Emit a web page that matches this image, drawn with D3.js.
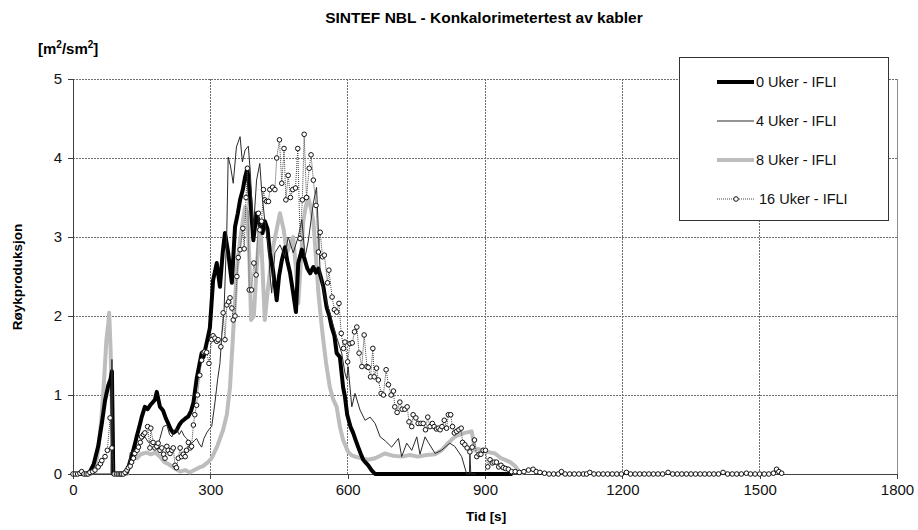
<!DOCTYPE html>
<html>
<head>
<meta charset="utf-8">
<script src="https://cdn.jsdelivr.net/npm/d3@7"></script>
<style>
  body { margin: 0; background: #fff; }
  svg { font-family: Arial, "Liberation Sans", sans-serif; }
</style>
</head>
<body>
<svg id="chart" width="918" height="530"></svg>
<script>
"use strict";

const title = "SINTEF NBL - Konkalorimetertest av kabler";
const xTicks = [0, 300, 600, 900, 1200, 1500, 1800];
const yTicks = [0, 1, 2, 3, 4, 5];
const seriesNames = ["0 Uker - IFLI", "4 Uker - IFLI", "8 Uker - IFLI", "16 Uker - IFLI"];

// [tid (s), røykproduksjon]
const uker0 = [[0,0],[30,0],[37,0.03],[45,0.12],[55,0.35],[63,0.64],[70,0.93],[77,1.12],[82,1.2],[85,1.3],[88,0],
  [95,0],[110,0],[117,0.02],[122,0.1],[128,0.22],[134,0.35],[139,0.47],[145,0.6],[150,0.72],[157,0.85],[163,0.82],
  [170,0.88],[179,0.94],[183,1.04],[190,0.85],[197,0.8],[203,0.7],[208,0.64],[214,0.56],[219,0.52],[226,0.55],
  [232,0.62],[237,0.66],[245,0.7],[252,0.73],[258,0.8],[263,0.9],[270,1.2],[274,1.32],[281,1.53],[285,1.48],
  [292,1.66],[299,1.85],[306,2.45],[314,2.67],[321,2.37],[327,2.8],[332,3.05],[339,2.8],[347,2.42],[354,3.13],
  [360,3.3],[365,3.47],[371,3.6],[376,3.76],[381,3.87],[387,3.5],[394,2.96],[401,3.3],[408,3.15],[414,3.05],
  [419,3.2],[425,3.1],[430,2.8],[437,2.58],[445,2.2],[450,2.5],[456,2.7],[463,2.87],[468,2.7],[474,2.55],
  [481,2.29],[487,2.05],[492,2.67],[500,2.84],[507,2.7],[512,2.6],[518,2.54],[525,2.62],[531,2.55],[536,2.6],
  [541,2.5],[547,2.37],[554,2.11],[560,2.0],[565,1.86],[571,1.75],[576,1.53],[583,1.48],[590,1.1],[594,0.98],
  [599,0.75],[606,0.6],[612,0.52],[618,0.42],[623,0.34],[629,0.25],[634,0.18],[640,0.14],[645,0.11],[652,0.05],
  [660,0],[700,0],[800,0],[900,0],[960,0]];

const uker4 = [[0,0],[80,0],[83,0],[85,1.45],[88,0],[120,0],[125,0.27],[135,0.3],[145,0.4],[157,0.47],[165,0.4],
  [175,0.42],[183,0.34],[190,0.45],[197,0.6],[205,0.62],[211,0.5],[216,0.47],[221,0.55],[226,0.57],[232,0.5],
  [237,0.55],[243,0.48],[248,0.45],[254,0.4],[259,0.39],[265,0.42],[270,0.45],[276,0.38],[281,0.34],[286,0.45],
  [292,0.52],[299,0.58],[303,0.6],[310,0.9],[316,1.2],[321,1.4],[325,1.75],[330,2.07],[336,3.09],[339,4.01],
  [344,3.9],[350,3.68],[357,4.14],[365,4.27],[370,3.95],[376,4.1],[383,4.15],[387,3.85],[394,3.09],[401,3.72],
  [408,3.93],[412,3.6],[419,3.2],[427,2.87],[430,2.54],[434,2.29],[441,2.8],[452,2.9],[463,2.75],[470,3.0],
  [481,2.8],[492,3.0],[500,3.22],[507,2.75],[514,2.95],[525,3.43],[532,3.63],[540,2.54],[548,2.3],[561,2.04],
  [576,1.73],[587,1.53],[594,1.28],[598,1.2],[601,1.36],[609,0.85],[616,1.02],[627,0.81],[638,0.68],[649,0.72],
  [660,0.64],[671,0.47],[682,0.42],[696,0.34],[711,0.45],[718,0.22],[729,0.39],[740,0.3],[751,0.47],[758,0.25],
  [769,0.47],[776,0.4],[791,0.26],[805,0.3],[823,0.39],[834,0.35],[849,0.22],[860,0],[866,0],[867,0.27],
  [869,0],[880,0]];

const uker8 = [[0,0],[40,0],[48,0.05],[55,0.3],[62,0.7],[68,1.2],[73,1.7],[77,1.9],[79,2.04],[82,1.6],[85,0.8],
  [88,0],[95,0],[118,0],[125,0.18],[132,0.22],[140,0.2],[148,0.25],[160,0.27],[170,0.25],[180,0.27],[190,0.22],
  [200,0.15],[210,0.12],[220,0.08],[234,0.03],[245,0.05],[255,0.02],[265,0.05],[275,0.08],[284,0.1],[295,0.15],
  [303,0.2],[315,0.35],[328,0.56],[336,0.75],[343,1.1],[350,1.8],[358,2.6],[365,2.96],[371,3.2],[376,3.38],
  [381,3.3],[386,2.6],[389,1.95],[395,2.0],[400,2.5],[405,2.92],[410,3.09],[414,2.6],[419,1.95],[425,2.3],
  [431,2.6],[437,2.87],[445,3.1],[452,3.3],[460,3.1],[467,2.8],[474,2.9],[481,3.0],[487,2.6],[492,2.16],
  [498,2.7],[503,3.2],[509,3.4],[514,3.5],[520,3.35],[525,3.2],[530,2.8],[536,2.3],[541,2.0],[546,1.73],
  [553,1.4],[561,1.1],[568,0.95],[576,0.85],[583,0.6],[590,0.43],[596,0.35],[601,0.28],[608,0.24],[616,0.22],
  [630,0.2],[644,0.18],[660,0.2],[681,0.26],[700,0.23],[718,0.22],[736,0.24],[754,0.22],[772,0.24],[791,0.25],
  [805,0.3],[819,0.39],[834,0.47],[845,0.5],[856,0.52],[871,0.54],[878,0.3],[885,0.32],[893,0.3],[905,0.28],
  [922,0.26],[935,0.2],[944,0.18],[955,0.15],[966,0.1],[975,0.03],[985,0]];

const uker16 = [[0,0],[5,0],[10,0],[15,0.01],[19,0.03],[24,0],[29,0],[33,0],[37,0.02],[43,0.03],[48,0.05],
  [55,0.09],[60,0.13],[63,0.17],[70,0.22],[75,0.3],[81,0.71],[85,0.33],[90,0],[95,0],[99,0],[103,0],[106,0],
  [110,0],[114,0.02],[118,0.05],[121,0.08],[125,0.1],[128,0.15],[132,0.2],[135,0.26],[140,0.3],[143,0.34],
  [147,0.4],[150,0.47],[154,0.5],[157,0.52],[163,0.6],[168,0.33],[170,0.58],[175,0.4],[179,0.33],[183,0.35],
  [186,0.39],[190,0.3],[194,0.33],[198,0.25],[201,0.2],[205,0.35],[208,0.3],[212,0.26],[216,0.3],[219,0.33],
  [223,0.11],[226,0.08],[230,0.2],[234,0.33],[237,0.22],[241,0.25],[245,0.22],[248,0.3],[252,0.4],[256,0.33],
  [259,0.35],[263,0.62],[266,0.75],[270,0.87],[272,1.0],[277,1.25],[281,1.44],[285,1.54],[288,1.55],[292,1.54],
  [297,1.4],[303,1.7],[306,1.75],[310,1.72],[314,1.68],[317,1.7],[323,1.61],[328,2.04],[332,1.7],[336,2.14],
  [340,2.18],[343,2.23],[347,2.1],[350,1.95],[354,2.0],[358,2.5],[361,2.74],[365,2.84],[371,3.11],[374,2.85],
  [378,3.5],[381,3.87],[385,2.33],[390,2.33],[395,2.67],[400,2.52],[405,3.3],[408,3.09],[412,3.2],[416,3.6],
  [419,3.47],[423,3.45],[427,3.45],[430,3.6],[436,3.63],[441,3.6],[445,4.0],[451,4.23],[456,3.68],[461,4.12],
  [465,3.47],[470,3.78],[475,3.5],[480,3.6],[486,3.62],[491,4.12],[496,2.98],[501,3.47],[505,4.3],[510,3.5],
  [516,3.87],[520,4.04],[525,3.72],[531,3.4],[536,2.81],[540,3.06],[545,2.75],[549,2.77],[556,2.42],[559,2.58],
  [566,2.24],[571,2.08],[576,2.05],[581,2.16],[586,1.78],[591,1.59],[594,1.67],[600,1.42],[605,1.65],[610,1.66],
  [615,1.8],[620,1.86],[625,1.53],[631,1.36],[636,1.76],[642,1.36],[645,1.35],[650,1.23],[655,1.59],[658,1.23],
  [663,1.34],[667,1.19],[673,1.02],[678,1.0],[684,1.32],[689,1.13],[695,1.0],[700,1.05],[703,0.85],[708,0.78],
  [714,0.91],[719,0.82],[725,0.82],[730,0.85],[734,0.66],[740,0.6],[743,0.75],[749,0.71],[754,0.64],[760,0.64],
  [765,0.64],[770,0.56],[775,0.72],[780,0.6],[785,0.64],[789,0.6],[794,0.57],[798,0.58],[802,0.56],[806,0.6],
  [811,0.68],[816,0.58],[820,0.75],[825,0.75],[829,0.6],[833,0.52],[838,0.54],[843,0.56],[848,0.58],[851,0.4],
  [856,0.37],[861,0.33],[867,0.28],[872,0.34],[877,0.43],[882,0.22],[887,0.25],[891,0.25],[896,0.3],[901,0.3],
  [906,0.09],[911,0.18],[916,0.14],[920,0.15],[925,0.15],[930,0.09],[935,0.11],[940,0.08],[945,0.07],[951,0.06],
  [958,0.03],[966,0.03],[975,0.02],[985,0.03],[995,0.05],[1005,0.06],[1012,0.03],[1020,0.02],[1030,0.01],
  [1040,0],[1050,0],[1060,0],[1067,0.03],[1075,0],[1085,0],[1095,0],[1105,0],[1115,0],[1122,0],[1129,0.02],
  [1138,0],[1148,0],[1158,0],[1168,0],[1178,0],[1188,0],[1198,0],[1209,0.02],[1218,0],[1228,0],[1238,0],
  [1248,0],[1258,0],[1268,0],[1278,0],[1288,0],[1300,0.02],[1310,0],[1320,0],[1330,0],[1340,0],[1350,0],
  [1360,0],[1370,0],[1380,0],[1390,0],[1400,0],[1410,0],[1420,0.02],[1430,0],[1440,0],[1450,0],[1460,0],
  [1471,0.01],[1480,0],[1490,0],[1500,0],[1510,0],[1520,0],[1530,0.01],[1537,0.06],[1542,0.03],[1548,0.01]];

const plotLeft = 73, plotRight = 897, plotTop = 79, plotBottom = 474;

const svg = d3.select("#chart");
const x = d3.scaleLinear().domain([0, 1800]).range([plotLeft, plotRight]);
const y = d3.scaleLinear().domain([0, 5]).range([plotBottom, plotTop]);

// title + units
svg.append("text").attr("x", 484).attr("y", 23).attr("text-anchor", "middle")
  .attr("font-size", 15.5).attr("font-weight", "bold").text(title);
const unit = svg.append("text").attr("x", 38).attr("y", 54)
  .attr("font-size", 15).attr("font-weight", "bold");
unit.append("tspan").text("[m");
unit.append("tspan").attr("font-size", 10).attr("dy", -6).text("2");
unit.append("tspan").attr("dy", 6).text("/sm");
unit.append("tspan").attr("font-size", 10).attr("dy", -6).text("2");
unit.append("tspan").attr("dy", 6).text("]");

// grid
const grid = svg.append("g").attr("stroke", "#6e6e6e").attr("stroke-dasharray", "2,1").attr("shape-rendering", "crispEdges");
grid.selectAll("line.h").data(yTicks.slice(1)).join("line").attr("class", "h")
  .attr("x1", plotLeft).attr("x2", plotRight).attr("y1", d => y(d)).attr("y2", d => y(d));
grid.selectAll("line.v").data(xTicks.slice(1, -1)).join("line").attr("class", "v")
  .attr("y1", plotTop).attr("y2", plotBottom).attr("x1", d => x(d)).attr("x2", d => x(d));
svg.append("line").attr("x1", plotRight).attr("x2", plotRight).attr("y1", plotTop).attr("y2", plotBottom)
  .attr("stroke", "#8c8c8c").attr("shape-rendering", "crispEdges");

// axes
const fmt = d3.format("d");
const xAxis = svg.append("g").attr("transform", `translate(0,${plotBottom})`)
  .call(d3.axisBottom(x).tickValues(xTicks).tickFormat(fmt).tickSize(5).tickPadding(5));
const yAxis = svg.append("g").attr("transform", `translate(${plotLeft},0)`)
  .call(d3.axisLeft(y).tickValues(yTicks).tickFormat(fmt).tickSize(5).tickPadding(6));
[xAxis, yAxis].forEach(a => {
  a.selectAll("path, line").attr("stroke", "#404040").attr("shape-rendering", "crispEdges");
  a.selectAll("text").attr("font-size", 15).attr("fill", "#111").attr("font-family", "Arial, 'Liberation Sans', sans-serif");
});

svg.append("text").attr("x", 486).attr("y", 521).attr("text-anchor", "middle")
  .attr("font-size", 13.5).attr("font-weight", "bold").text("Tid [s]");
svg.append("text").attr("transform", "translate(22,277) rotate(-90)").attr("text-anchor", "middle")
  .attr("font-size", 13.5).attr("font-weight", "bold").text("Røykproduksjon");

// series
const line = d3.line().x(d => x(d[0])).y(d => y(d[1]));
const plot = svg.append("g").attr("fill", "none").attr("stroke-linejoin", "round");
plot.append("path").datum(uker8).attr("d", line).attr("stroke", "#bdbdbd").attr("stroke-width", 4);
plot.append("path").datum(uker0).attr("d", line).attr("stroke", "#000").attr("stroke-width", 4);
plot.append("path").datum(uker4).attr("d", line).attr("stroke", "#2a2a2a").attr("stroke-width", 1);
plot.append("path").datum(uker16).attr("d", line).attr("stroke", "#444").attr("stroke-width", 1)
  .attr("stroke-dasharray", "1,1");
svg.append("g").selectAll("circle").data(uker16).join("circle")
  .attr("cx", d => x(d[0])).attr("cy", d => y(d[1])).attr("r", 2.3)
  .attr("fill", "#fff").attr("stroke", "#111").attr("stroke-width", 1);

// legend
const lg = svg.append("g");
lg.append("rect").attr("x", 679.5).attr("y", 57.5).attr("width", 209).attr("height", 163)
  .attr("fill", "#fff").attr("stroke", "#333");
const styles = [
  { stroke: "#000", w: 4, dash: null, marker: false },
  { stroke: "#2a2a2a", w: 1, dash: null, marker: false },
  { stroke: "#bdbdbd", w: 4, dash: null, marker: false },
  { stroke: "#444", w: 1, dash: "1,1", marker: true }
];
const rowY = [82, 121, 160, 199];
seriesNames.forEach((name, i) => {
  const s = styles[i];
  lg.append("line").attr("x1", 717).attr("x2", 754).attr("y1", rowY[i]).attr("y2", rowY[i])
    .attr("stroke", s.stroke).attr("stroke-width", s.w).attr("stroke-dasharray", s.dash);
  if (s.marker) {
    lg.append("circle").attr("cx", 736).attr("cy", rowY[i]).attr("r", 2.3)
      .attr("fill", "#fff").attr("stroke", "#111");
  }
  lg.append("text").attr("x", i === 3 ? 759 : 756).attr("y", rowY[i] + 5)
    .attr("font-size", 14.5).attr("fill", "#111").text(name);
});
</script>
</body>
</html>
